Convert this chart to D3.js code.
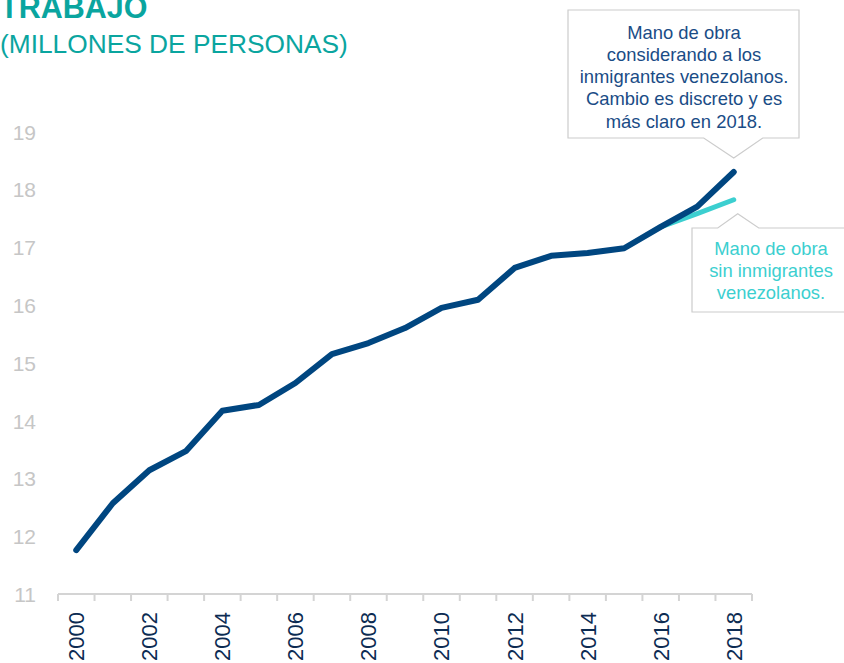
<!DOCTYPE html>
<html>
<head>
<meta charset="utf-8">
<script src="https://cdn.jsdelivr.net/npm/d3@7"></script>
<style>
  html, body { margin: 0; padding: 0; background: #fff; }
  svg { display: block; font-family: "Liberation Sans", Arial, sans-serif; }
</style>
</head>
<body>
<div id="chart"></div>
<script>
// Data
const years = d3.range(2000, 2019);
const conInmigrantes = [11.76, 12.57, 13.14, 13.47, 14.17, 14.27, 14.65, 15.15, 15.34, 15.60,
  15.95, 16.09, 16.64, 16.85, 16.90, 16.98, 17.35, 17.70, 18.30];
const sinInmigrantesYears = [2016, 2017, 2018];
const sinInmigrantes = [17.35, 17.58, 17.82];
const yTicks = [11, 12, 13, 14, 15, 16, 17, 18, 19];
const xLabels = [2000, 2002, 2004, 2006, 2008, 2010, 2012, 2014, 2016, 2018];

const w = 844;
const h = 663;

const svg = d3.select("#chart")
  .append("svg")
  .attr("width", w)
  .attr("height", h);

// Scales
const xScale = d3.scaleBand().domain(years).range([58, 752]);
const xMid = d => xScale(d) + xScale.bandwidth() / 2;
const yScale = d3.scaleLinear().domain([11, 19]).range([594, 131.5]);

// Title (top is cut off in the original too)
svg.append("text")
  .attr("x", 0).attr("y", 18)
  .attr("fill", "#0aa59f")
  .attr("font-size", 30.5).attr("font-weight", "bold")
  .text("TRABAJO")
  .append("tspan")
  .attr("font-size", 12).attr("dy", -14)
  .text("**");

svg.append("text")
  .attr("x", 0).attr("y", 53)
  .attr("fill", "#0aa59f")
  .attr("font-size", 26.3)
  .text("(MILLONES DE PERSONAS)");

// y-axis labels (no axis line)
const yAxis = d3.axisLeft(yScale).tickValues(yTicks).tickSize(0).tickPadding(0);
const gy = svg.append("g")
  .attr("transform", "translate(36, 0)")
  .call(yAxis);
gy.select(".domain").remove();
gy.selectAll("text")
  .attr("fill", "#c6c6c6")
  .attr("font-size", 21)
  .attr("font-family", "Liberation Sans, Arial, sans-serif")
  .attr("dy", "0.36em");

// x-axis line and boundary ticks
const xBase = yScale(11);
svg.append("line")
  .attr("x1", xScale.range()[0]).attr("x2", xScale.range()[1])
  .attr("y1", xBase).attr("y2", xBase)
  .attr("stroke", "#d4d4d4").attr("stroke-width", 2);

svg.selectAll(".xtick")
  .data(years.concat([2019]))
  .enter()
  .append("line")
  .attr("class", "xtick")
  .attr("x1", d => d === 2019 ? xScale.range()[1] : xScale(d))
  .attr("x2", d => d === 2019 ? xScale.range()[1] : xScale(d))
  .attr("y1", xBase).attr("y2", xBase + 7)
  .attr("stroke", "#d4d4d4").attr("stroke-width", 2);

// x labels (rotated)
const xAxis = d3.axisBottom(xScale).tickValues(xLabels).tickSize(0).tickPadding(0);
const gx = svg.append("g")
  .attr("transform", `translate(0, ${xBase})`)
  .call(xAxis);
gx.select(".domain").remove();
gx.selectAll("text")
  .attr("fill", "#0c2b52")
  .attr("font-size", 22)
  .attr("font-family", "Liberation Sans, Arial, sans-serif")
  .attr("transform", "rotate(-90)")
  .attr("text-anchor", "end")
  .attr("x", -18)
  .attr("y", 0)
  .attr("dy", "0.36em");

// Lines
const line = d3.line()
  .x(d => xMid(d[0]))
  .y(d => yScale(d[1]));

svg.append("path")
  .datum(sinInmigrantesYears.map((y, i) => [y, sinInmigrantes[i]]))
  .attr("d", line)
  .attr("fill", "none")
  .attr("stroke", "#3ccfd0")
  .attr("stroke-width", 5)
  .attr("stroke-linecap", "round")
  .attr("stroke-linejoin", "round");

svg.append("path")
  .datum(years.map((y, i) => [y, conInmigrantes[i]]))
  .attr("d", line)
  .attr("fill", "none")
  .attr("stroke", "#004680")
  .attr("stroke-width", 6)
  .attr("stroke-linecap", "round")
  .attr("stroke-linejoin", "round");

// Callouts
const tip1x = xMid(2018), tip1y = yScale(18.30) - 14;
svg.append("path")
  .attr("d", `M568,10 H799 V138 H${tip1x + 29} L${tip1x},${tip1y} L${tip1x - 30},138 H568 Z`)
  .attr("fill", "#fff")
  .attr("stroke", "#cccccc")
  .attr("stroke-width", 1.2);

const note1 = ["Mano de obra", "considerando a los", "inmigrantes venezolanos.",
  "Cambio es discreto y es", "más claro en 2018."];
svg.append("g")
  .selectAll("text")
  .data(note1)
  .enter()
  .append("text")
  .attr("x", 684)
  .attr("y", (d, i) => 38.5 + i * 22.3)
  .attr("text-anchor", "middle")
  .attr("fill", "#1a4c86")
  .attr("font-size", 18.4)
  .text(d => d);

const tip2x = xMid(2018) + 4, tip2y = yScale(17.82) + 14;
svg.append("path")
  .attr("d", `M692,228 H${tip2x - 20} L${tip2x},${tip2y} L${tip2x + 21},228 H850 V312 H692 Z`)
  .attr("fill", "#fff")
  .attr("stroke", "#cccccc")
  .attr("stroke-width", 1.2);

const note2 = ["Mano de obra", "sin inmigrantes", "venezolanos."];
svg.append("g")
  .selectAll("text")
  .data(note2)
  .enter()
  .append("text")
  .attr("x", 771)
  .attr("y", (d, i) => 255 + i * 22)
  .attr("text-anchor", "middle")
  .attr("fill", "#3ccfd0")
  .attr("font-size", 18.4)
  .text(d => d);
</script>
</body>
</html>
